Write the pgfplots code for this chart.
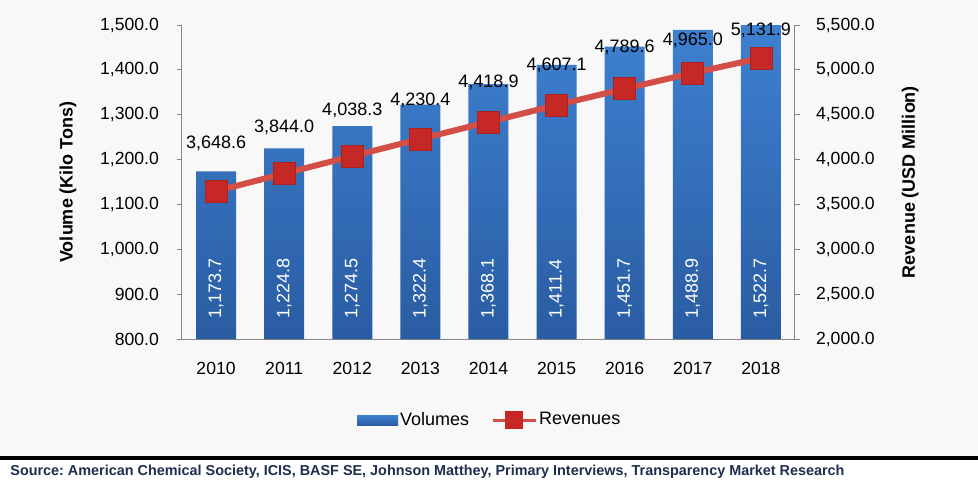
\documentclass[border=0pt]{standalone}
\usepackage{pgfplots}
\pgfplotsset{compat=1.18}
\usepackage{pgfplotstable}
\usepackage{fontspec}
\setmainfont{Liberation Sans}
\frenchspacing
\definecolor{bartop}{RGB}{62,130,210}
\definecolor{barbot}{RGB}{42,92,162}
\definecolor{linered}{RGB}{212,78,72}
\definecolor{markred}{RGB}{198,40,38}
\definecolor{bg}{RGB}{248,248,248}
\definecolor{axisgray}{RGB}{134,134,134}
\definecolor{srcblue}{RGB}{31,45,78}
\pgfplotsset{/pgf/number format/assume math mode=true}
\pgfplotstableread{
x vol rev off
0 1173.7 3648.6 24
1 1224.8 3844.0 23
2 1274.5 4038.3 23
3 1322.4 4230.4 19.5
4 1368.1 4418.9 20
5 1411.4 4607.1 20
6 1451.7 4789.6 20.5
7 1488.9 4965.0 16.5
8 1522.7 5131.9 14
}\data
\newcommand{\numfmt}[1]{\pgfmathprintnumber[fixed,fixed zerofill,precision=1,1000 sep={,}]{#1}}
\begin{document}
\begin{tikzpicture}
\fill[white] (-91pt,-74.5pt) rectangle (398pt,169.5pt);
\fill[bg] (-91pt,-58.5pt) rectangle (398pt,169.5pt);
\fill[black] (-91pt,-60.5pt) rectangle (398pt,-58.5pt);
\node[anchor=west, font=\fontsize{7.2}{8}\selectfont\bfseries, text=srcblue, inner sep=0pt] at (-86pt,-66.5pt) {Source: American Chemical Society, ICIS, BASF SE, Johnson Matthey, Primary Interviews, Transparency Market Research};
\begin{axis}[
  at={(0pt,0pt)}, anchor=south west,
  scale only axis, width=306.5pt, height=157pt,
  xmin=-0.5, xmax=8.5, ymin=800, ymax=1500,
  ytick={800,900,1000,1100,1200,1300,1400,1500},
  xtick={0,1,2,3,4,5,6,7,8},
  xticklabels={2010,2011,2012,2013,2014,2015,2016,2017,2018},
  scaled y ticks=false,
  yticklabel={\numfmt{\tick}},
  axis y line*=left, axis x line*=bottom,
  axis line style={draw=axisgray, line width=0.5pt},
  xtick style={draw=none},
  ytick style={draw=axisgray, line width=0.5pt},
  major tick length=2.5pt, tick align=outside,
  ticklabel style={font=\fontsize{8.8}{10}\selectfont},
  yticklabel style={xshift=-5.5pt},
  xticklabel style={yshift=-5.5pt},
  ylabel={Volume (Kilo Tons)},
  every axis y label/.style={at={(axis description cs:-0.186,0.5)}, rotate=90, anchor=center, font=\fontsize{9}{10}\selectfont\bfseries},
]
\addplot[ybar, bar width=20pt, draw=none, top color=bartop, bottom color=barbot] table[x=x, y=vol] {\data};
\addplot[draw=none, mark=none, point meta=explicit,
  nodes near coords={\numfmt{\pgfplotspointmeta}},
  every node near coord/.append style={rotate=90, anchor=west, text=white, inner sep=0pt, font=\fontsize{9}{10}\selectfont}]
  table[x=x, y expr=845, meta=vol] {\data};
\end{axis}
\begin{axis}[
  at={(0pt,0pt)}, anchor=south west,
  scale only axis, width=306.5pt, height=157pt,
  xmin=-0.5, xmax=8.5, ymin=2000, ymax=5500,
  ytick={2000,2500,3000,3500,4000,4500,5000,5500},
  scaled y ticks=false,
  yticklabel={\numfmt{\tick}},
  axis y line*=right, axis x line=none,
  axis line style={draw=axisgray, line width=0.5pt},
  ytick style={draw=axisgray, line width=0.5pt},
  major tick length=2.5pt, tick align=outside,
  ticklabel style={font=\fontsize{8.8}{10}\selectfont},
  yticklabel style={xshift=4.5pt},
  clip=false,
  ylabel={Revenue (USD Million)},
  every axis y label/.style={at={(axis description cs:1.188,0.5)}, rotate=90, anchor=center, font=\fontsize{9}{10}\selectfont\bfseries},
  legend style={at={(axis description cs:0.502,-0.258)}, anchor=center, draw=none, fill=none,
    legend columns=2, font=\fontsize{9}{10}\selectfont,
    /tikz/every even column/.append style={column sep=10pt},
    nodes={inner sep=1pt}},
]
\addlegendimage{legend image code/.code={\shade[draw=none, top color=bartop, bottom color=barbot] (0pt,-2.5pt) rectangle (20.5pt,2.5pt);}}
\addlegendentry{Volumes}
\addplot[linered, line width=3pt, mark=square*, mark size=5.5pt,
  mark options={fill=markred, draw=markred!85!black, line width=0.4pt},
  point meta=explicit,
  visualization depends on={\thisrow{off} \as \off},
  nodes near coords={\numfmt{\pgfplotspointmeta}},
  every node near coord/.append style={anchor=center, yshift=\off pt, text=black, inner sep=0pt, font=\fontsize{9}{10}\selectfont},
  legend image code/.code={\draw[linered, line width=1.5pt] (0pt,0pt) -- (21.5pt,0pt); \fill[markred] (7.75pt,-3pt) rectangle (13.75pt,3pt);}]
  table[x=x, y=rev, meta=rev] {\data};
\addlegendentry{Revenues}
\end{axis}
\end{tikzpicture}
\end{document}
